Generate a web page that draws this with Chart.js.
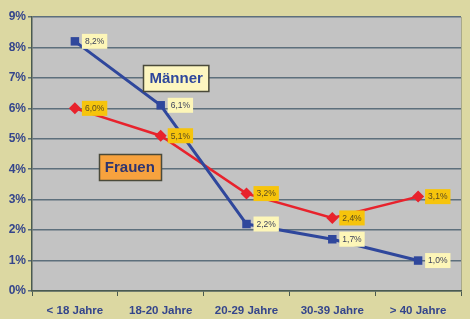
<!DOCTYPE html>
<html>
<head>
<meta charset="utf-8">
<script src="https://cdn.jsdelivr.net/npm/chart.js@4/dist/chart.umd.min.js"></script>
<style>
  html, body { margin: 0; padding: 0; background: #dcd8a2; }
  #wrap { width: 470px; height: 319px; position: relative; }
</style>
</head>
<body>
<div id="wrap"><canvas id="grafik" width="470" height="319"></canvas></div>
<script>
const kategori = ["< 18 Jahre", "18-20 Jahre", "20-29 Jahre", "30-39 Jahre", "> 40 Jahre"];
const maenner = [8.2, 6.1, 2.2, 1.7, 1.0];
const frauen = [6.0, 5.1, 3.2, 2.4, 3.1];
const yTicks = [0, 1, 2, 3, 4, 5, 6, 7, 8, 9];

const blau = "#2f479c";
const rot = "#e8222c";
const textBlau = "#34458c";

function fmt(v) {
  return v.toFixed(1).replace(".", ",") + "%";
}

// grauer Plotbereich
const plotHintergrund = {
  id: "plotHintergrund",
  beforeDraw(chart) {
    const { ctx, chartArea: a } = chart;
    ctx.save();
    ctx.fillStyle = "#dcd8a2";
    ctx.fillRect(0, 0, chart.width, chart.height);
    ctx.fillStyle = "#c3c3c3";
    ctx.fillRect(a.left, a.top, a.right - a.left, a.bottom - a.top);
    ctx.strokeStyle = "#a9a98a";
    ctx.lineWidth = 1;
    ctx.beginPath();
    ctx.moveTo(a.right + 0.5, a.top);
    ctx.lineTo(a.right + 0.5, a.bottom);
    ctx.stroke();
    ctx.restore();
  }
};

// Wertekästchen und Legendenkästen
const beschriftung = {
  id: "beschriftung",
  afterDatasetsDraw(chart) {
    const { ctx, scales } = chart;
    ctx.save();
    ctx.font = "8.5px Arial, 'Liberation Sans', sans-serif";
    ctx.textBaseline = "middle";
    chart.data.datasets.forEach((ds, i) => {
      const meta = chart.getDatasetMeta(i);
      meta.data.forEach((pt, j) => {
        const txt = fmt(ds.data[j]);
        const w = ctx.measureText(txt).width + 6;
        const h = 15;
        const bx = pt.x + 7;
        const by = pt.y - h / 2;
        ctx.fillStyle = ds.boxFarbe;
        ctx.fillRect(bx, by, w, h);
        ctx.fillStyle = ds.boxText;
        ctx.fillText(txt, bx + 3, pt.y + 0.5);
      });
    });

    // Legendenkästen in Datenkoordinaten verankert
    const kasten = (text, xi, yv, fill, farbe) => {
      ctx.font = "bold 15px Arial, 'Liberation Sans', sans-serif";
      const w = ctx.measureText(text).width + 12;
      const h = 26;
      const cx = scales.x.getPixelForValue(xi);
      const cy = scales.y.getPixelForValue(yv);
      const x0 = Math.round(cx - w / 2) + 0.5;
      const y0 = Math.round(cy - h / 2) + 0.5;
      ctx.fillStyle = fill;
      ctx.fillRect(x0, y0, w, h);
      ctx.strokeStyle = "#4a4a3a";
      ctx.lineWidth = 1.5;
      ctx.strokeRect(x0, y0, w, h);
      ctx.fillStyle = farbe;
      ctx.textAlign = "center";
      ctx.fillText(text, cx, cy + 1);
      ctx.textAlign = "left";
    };
    kasten("Männer", 1.18, 7.0, "#fdf6c0", blau);
    kasten("Frauen", 0.64, 4.08, "#f7a23e", "#2e3570");
    ctx.restore();
  }
};

new Chart(document.getElementById("grafik"), {
  type: "line",
  data: {
    labels: kategori,
    datasets: [
      {
        label: "Männer",
        data: maenner,
        borderColor: blau,
        backgroundColor: blau,
        borderWidth: 3,
        pointStyle: "rect",
        pointRadius: 6,
        pointBorderWidth: 0,
        tension: 0,
        boxFarbe: "#fdf6b8",
        boxText: "#3a3f5a"
      },
      {
        label: "Frauen",
        data: frauen,
        borderColor: rot,
        backgroundColor: rot,
        borderWidth: 2.5,
        pointStyle: "rectRot",
        pointRadius: 6,
        pointBorderWidth: 0,
        tension: 0,
        boxFarbe: "#f6c40c",
        boxText: "#5a4a20"
      }
    ]
  },
  options: {
    responsive: false,
    animation: false,
    layout: { padding: { top: 17, right: 9, left: 0, bottom: 0 } },
    plugins: {
      legend: { display: false },
      tooltip: { enabled: false }
    },
    scales: {
      x: {
        offset: true,
        afterFit: s => { s.height = 28; },
        grid: {
          offset: true,
          drawOnChartArea: false,
          drawTicks: true,
          tickLength: 5,
          color: "#4a5a50",
          lineWidth: 1
        },
        border: { color: "#4a5a50", width: 1.5 },
        ticks: {
          color: textBlau,
          padding: 8,
          font: { family: "Arial, 'Liberation Sans', sans-serif", size: 11.5, weight: "bold" }
        }
      },
      y: {
        min: 0,
        max: 9,
        afterFit: s => { s.width = 32; },
        afterBuildTicks: s => { s.ticks = yTicks.map(v => ({ value: v })); },
        grid: {
          color: "#5d6f7c",
          lineWidth: 1.5,
          drawTicks: true,
          tickLength: 4
        },
        border: { color: "#4a5a50", width: 1.5 },
        ticks: {
          color: textBlau,
          padding: 2,
          callback: v => v + "%",
          font: { family: "Arial, 'Liberation Sans', sans-serif", size: 12, weight: "bold" }
        }
      }
    }
  },
  plugins: [plotHintergrund, beschriftung]
});
</script>
</body>
</html>
